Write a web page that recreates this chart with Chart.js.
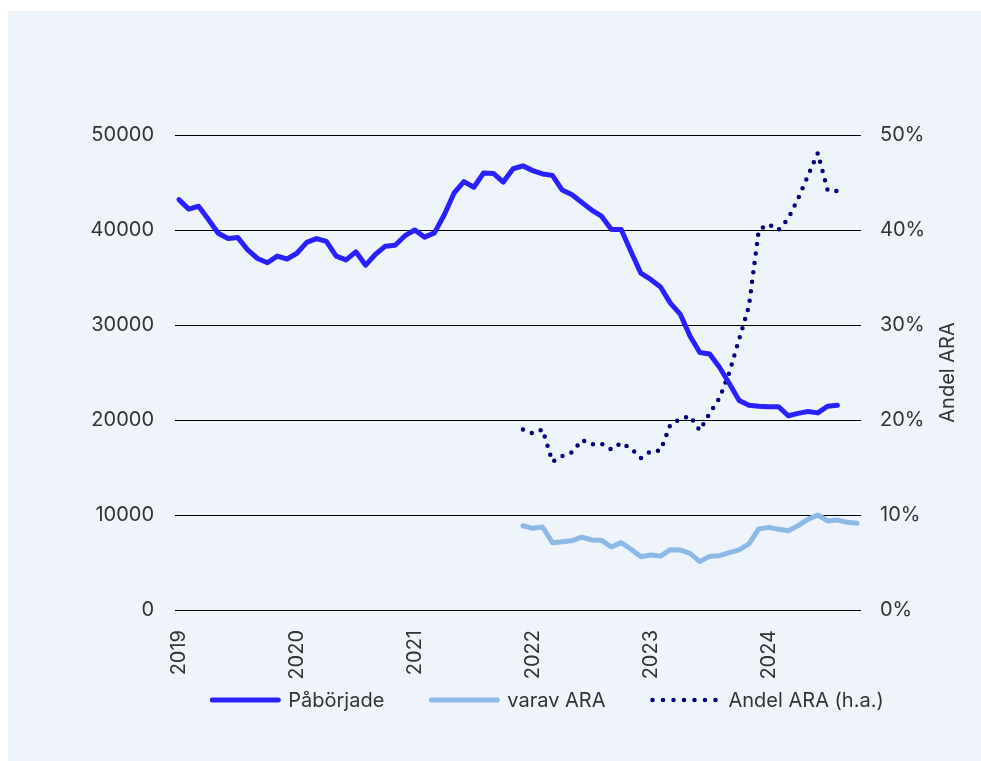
<!DOCTYPE html>
<html>
<head>
<meta charset="utf-8">
<script src="https://cdn.jsdelivr.net/npm/chart.js@4/dist/chart.umd.min.js"></script>
<style>
  html, body { margin: 0; padding: 0; background: #fff; }
  #panel { position: absolute; left: 8px; top: 11px; width: 973px; height: 750px; background: #eff4fb; }
  canvas { display: block; }
</style>
</head>
<body>
<div id="panel"><canvas id="chart" width="973" height="750"></canvas></div>
<script>
// monthly data, Jan 2019 = index 0
const yearTicks = ['2019', '2020', '2021', '2022', '2023', '2024'];

const paborjade = [
  43200, 42200, 42500, 41100, 39650, 39100, 39200, 37900, 37000, 36550, 37250, 36950,
  37550, 38700, 39100, 38800, 37250, 36850, 37700, 36300, 37450, 38300, 38400, 39400,
  40000, 39250, 39700, 41600, 43900, 45100, 44500, 46000, 45950, 45050, 46450, 46750,
  46250, 45900, 45750, 44200, 43700, 42900, 42100, 41450, 40050, 40050, 37700, 35450,
  34800, 34000, 32300, 31150, 28850, 27100, 26950, 25550, 23850, 22050, 21550, 21450,
  21400, 21400, 20450, 20700, 20900, 20750, 21450, 21550, null, null
];

const varavAra = [
  null, null, null, null, null, null, null, null, null, null, null, null,
  null, null, null, null, null, null, null, null, null, null, null, null,
  null, null, null, null, null, null, null, null, null, null, null, 8870,
  8600, 8740, 7090, 7190, 7300, 7680, 7370, 7330, 6630, 7090, 6390, 5610,
  5790, 5680, 6350, 6320, 5970, 5090, 5650, 5720, 6030, 6320, 6950, 8530,
  8700, 8490, 8350, 8880, 9540, 10000, 9370, 9470, 9230, 9130
];

const andelAra = [
  null, null, null, null, null, null, null, null, null, null, null, null,
  null, null, null, null, null, null, null, null, null, null, null, null,
  null, null, null, null, null, null, null, null, null, null, null, 19.0,
  18.6, 19.0, 15.6, 16.2, 16.6, 17.9, 17.45, 17.5, 16.9, 17.6, 17.0, 16.0,
  16.7, 16.8, 19.5, 20.1, 20.4, 18.9, 20.7, 22.3, 25.0, 28.5, 32.0, 40.0,
  40.6, 40.0, 41.2, 43.3, 45.7, 48.1, 44.2, 44.1, null, null
];

Chart.defaults.font.family = 'Inter';
Chart.defaults.font.size = 20;
Chart.defaults.color = '#333';

const toPoints = arr => arr.map((v, i) => ({ x: i, y: v }));

// right axis title, reads bottom to top
const rightTitle = {
  id: 'rightTitle',
  afterDraw(chart) {
    const ctx = chart.ctx;
    const area = chart.chartArea;
    ctx.save();
    ctx.translate(940, (area.top + area.bottom) / 2);
    ctx.rotate(-Math.PI / 2);
    ctx.font = '20px Inter';
    ctx.fillStyle = '#333';
    ctx.textAlign = 'center';
    ctx.textBaseline = 'middle';
    ctx.fillText('Andel ARA', 0, 0);
    ctx.restore();
  }
};

// legend drawn by hand so the item gap and row position can differ
const lineLegend = {
  id: 'lineLegend',
  afterDraw(chart) {
    const ctx = chart.ctx;
    const sample = 66, gap = 10, itemGap = 47;
    const centerX = 540, y = 689;
    ctx.save();
    ctx.font = '20px Inter';
    const sets = chart.data.datasets;
    const widths = sets.map(ds => sample + gap + ctx.measureText(ds.label).width);
    const total = widths.reduce((a, b) => a + b, 0) + itemGap * (sets.length - 1);
    let x = centerX - total / 2;
    sets.forEach((ds, i) => {
      ctx.beginPath();
      ctx.strokeStyle = ds.borderColor;
      ctx.lineWidth = ds.borderWidth;
      ctx.lineCap = 'round';
      ctx.setLineDash(ds.borderDash ? [0, 10.5] : []);
      ctx.moveTo(x, y);
      ctx.lineTo(x + sample, y);
      ctx.stroke();
      ctx.setLineDash([]);
      ctx.fillStyle = '#333';
      ctx.textAlign = 'left';
      ctx.textBaseline = 'middle';
      ctx.fillText(ds.label, x + sample + gap, y + 1);
      x += widths[i] + itemGap;
    });
    ctx.restore();
  }
};

new Chart(document.getElementById('chart'), {
  type: 'line',
  data: {
    datasets: [
      {
        label: 'Påbörjade',
        data: toPoints(paborjade),
        yAxisID: 'y',
        borderColor: '#2b20ff',
        backgroundColor: '#2b20ff',
        borderWidth: 5,
        borderCapStyle: 'round',
        borderJoinStyle: 'round',
        pointRadius: 0
      },
      {
        label: 'varav ARA',
        data: toPoints(varavAra),
        yAxisID: 'y',
        borderColor: '#8cb9e6',
        backgroundColor: '#8cb9e6',
        borderWidth: 5,
        borderCapStyle: 'round',
        borderJoinStyle: 'round',
        pointRadius: 0
      },
      {
        label: 'Andel ARA (h.a.)',
        data: toPoints(andelAra),
        yAxisID: 'y1',
        borderColor: '#00007a',
        backgroundColor: '#00007a',
        borderWidth: 4.5,
        borderDash: [0, 9.5],
        borderCapStyle: 'round',
        borderJoinStyle: 'round',
        pointRadius: 0
      }
    ]
  },
  options: {
    responsive: false,
    animation: false,
    layout: { padding: { left: 60, right: 0, top: 124, bottom: 82 } },
    plugins: {
      legend: { display: false },
      tooltip: { enabled: false }
    },
    scales: {
      x: {
        type: 'linear',
        min: -0.4,
        max: 69.4,
        grid: { display: false },
        border: { display: false },
        afterFit: s => { s.height = 69; },
        afterBuildTicks: s => { s.ticks = yearTicks.map((t, i) => ({ value: i * 12 })); },
        ticks: {
          minRotation: 90,
          maxRotation: 90,
          padding: 12,
          autoSkip: false,
          callback: v => yearTicks[Math.round(v / 12)]
        }
      },
      y: {
        position: 'left',
        min: 0,
        max: 50000,
        afterFit: s => { s.width = 107; },
        grid: { color: '#000', lineWidth: 1, drawTicks: false },
        border: { display: false },
        ticks: { stepSize: 10000, padding: 21, callback: v => String(v) }
      },
      y1: {
        position: 'right',
        min: 0,
        max: 50,
        afterFit: s => { s.width = 120; },
        grid: { display: false, drawTicks: false },
        border: { display: false },
        ticks: { stepSize: 10, padding: 19, callback: v => v + '%' }
      }
    }
  },
  plugins: [rightTitle, lineLegend]
});
</script>
</body>
</html>
